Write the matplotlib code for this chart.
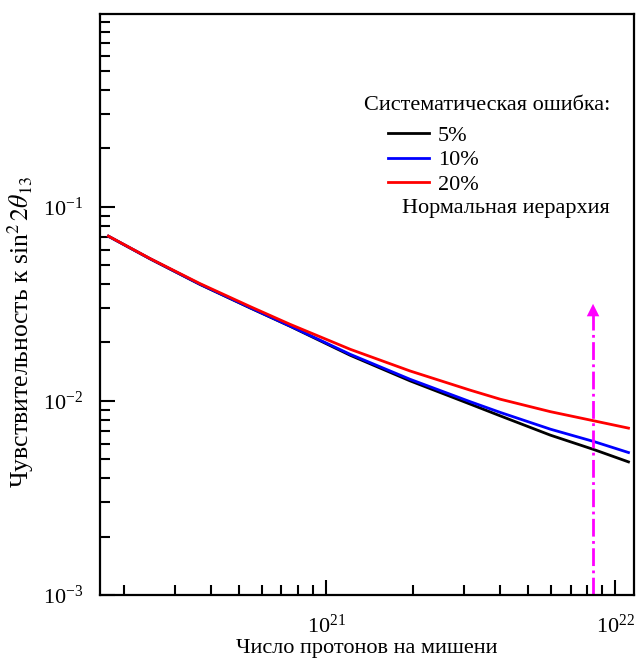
import matplotlib.pyplot as plt
from matplotlib.lines import Line2D
from matplotlib.ticker import LogLocator, NullFormatter

plt.rcParams['font.family'] = ['Liberation Serif', 'DejaVu Serif']
plt.rcParams['mathtext.fontset'] = 'stix'

# number of protons on target
N = [1.765e20, 2.46e20, 3.66e20, 5.46e20, 7.50e20, 1.21e21,
     1.95e21, 3.15e21, 4.00e21, 5.96e21, 8.41e21, 1.11e22]
# sensitivity to sin^2 2theta13 for each systematic error
s5 = [0.0705, 0.0539, 0.0398, 0.0301, 0.02423, 0.01718,
      0.01268, 0.00962, 0.00837, 0.00666, 0.00562, 0.00485]
s10 = [0.0705, 0.0540, 0.0399, 0.0302, 0.0243, 0.01738,
       0.01292, 0.0099, 0.00872, 0.00715, 0.00618, 0.00542]
s20 = [0.0706, 0.0541, 0.0402, 0.0306, 0.0248, 0.01845,
       0.01426, 0.01135, 0.0102, 0.0088, 0.0079, 0.00724]
labels = ['5%', '10%', '20%']
colors = ['black', 'blue', 'red']

arrow_x = 8.37e21
arrow_top = 0.0327

fig = plt.figure(figsize=(6.44, 6.60), dpi=100)
ax = fig.add_axes([0.1553, 0.0985, 0.8292, 0.8803])

for s, c in zip([s5, s10, s20], colors):
    ax.plot(N, s, color=c, lw=2)

ax.set_xscale('log')
ax.set_yscale('log')
ax.set_xlim(1.65e20, 1.16e22)
ax.set_ylim(1e-3, 0.985)

# magenta arrow
ax.plot([arrow_x, arrow_x], [1e-3, arrow_top * 0.86], color='magenta', lw=2, ls='-.')
ax.annotate('', xy=(arrow_x, arrow_top), xytext=(arrow_x, arrow_top * 0.84),
            arrowprops=dict(arrowstyle='-|>,head_length=0.9,head_width=0.45',
                            color='magenta', lw=0))

ax.yaxis.set_major_locator(LogLocator(base=10, numticks=10))
ax.yaxis.set_minor_locator(LogLocator(base=10, subs=range(2, 10), numticks=10))
ax.xaxis.set_minor_locator(LogLocator(base=10, subs=range(2, 10), numticks=10))
ax.xaxis.set_minor_formatter(NullFormatter())
ax.yaxis.set_minor_formatter(NullFormatter())
ax.tick_params(which='both', direction='in', top=False, right=False, labelsize=16, width=1.5)
ax.tick_params(axis='y', which='major', length=11, pad=12)
ax.tick_params(axis='x', which='major', length=11, pad=14)
ax.tick_params(which='minor', length=7)
for sp in ax.spines.values():
    sp.set_linewidth(1.6)

ax.set_xlabel('Число протонов на мишени', fontsize=16, labelpad=1)
ax.set_ylabel(r'Чувствительность к sin$^2\,2\theta_{13}$', fontsize=18.5)
ax.yaxis.set_label_coords(-0.12, 0.453)

handles = [Line2D([], [], color=c, lw=2) for c in colors]
ax.legend(handles, labels, loc='upper left', bbox_to_anchor=(0.539, 0.809),
          frameon=False, fontsize=16, handlelength=1.85, labelspacing=0.19,
          handletextpad=0.4, borderpad=0, borderaxespad=0)
ax.text(0.955, 0.843, 'Систематическая ошибка:', transform=ax.transAxes,
        ha='right', va='center', fontsize=16)
ax.text(0.955, 0.666, 'Нормальная иерархия', transform=ax.transAxes,
        ha='right', va='center', fontsize=16)

fig.savefig('out.png', dpi=100)
